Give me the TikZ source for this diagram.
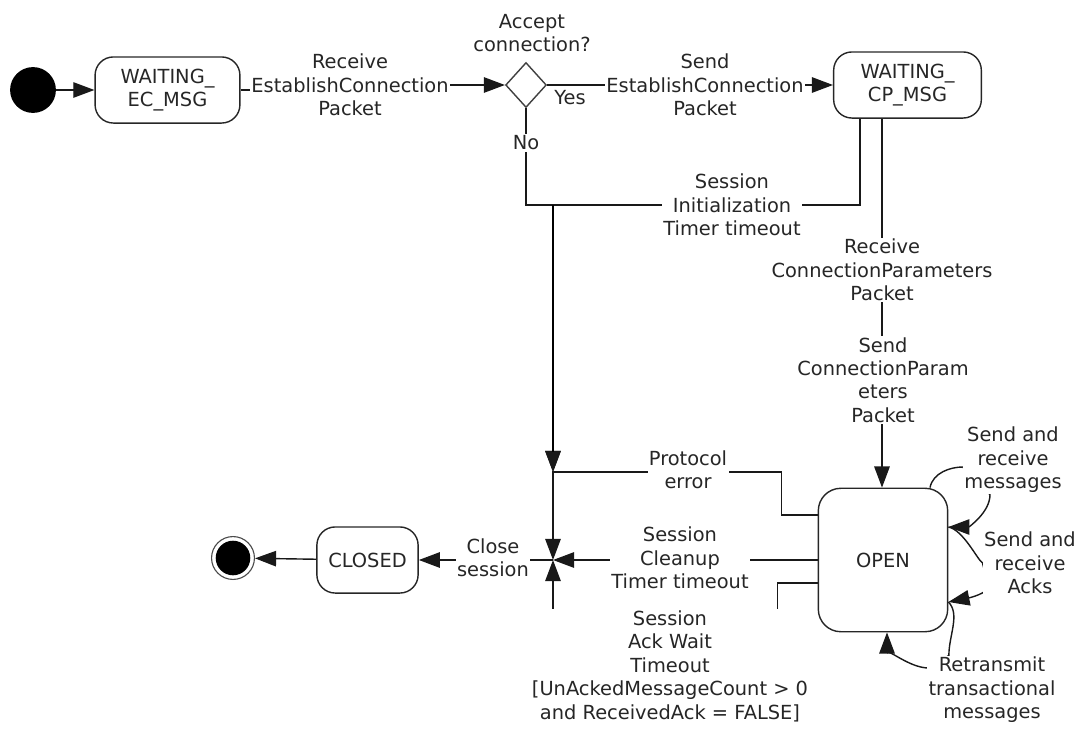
\documentclass[tikz,border=0pt]{standalone}
\usepackage{fontspec}
\setmainfont{DejaVu Sans}
\usetikzlibrary{arrows.meta, shapes.geometric, backgrounds, calc}

\begin{document}
\begin{tikzpicture}[x=0.025cm, y=-0.025cm, font=\fontsize{13.8}{16.7}\selectfont,
  text=black!85]

  % Define styles
  \tikzset{
    state/.style={draw=black!85, line width=1pt, rounded corners=13pt,
      minimum height=47pt, align=center, inner sep=2pt},
    decision/.style={draw=black!75, line width=1pt, diamond,
      minimum width=29pt, minimum height=32pt, inner sep=0pt},
    startdot/.style={circle, fill=black, minimum size=32.6pt, inner sep=0pt},
    enddot/.style={circle, draw=black!70, line width=0.8pt, minimum size=30.5pt,
      inner sep=0pt,
      path picture={\fill[black] (path picture bounding box.center) circle (12.3pt);}},
    flow/.style={draw=black!90, line width=1pt, -{Triangle[length=15pt,width=11pt]}},
    lbl/.style={fill=white, align=center, inner sep=1pt}
  }

  \useasboundingbox (0,0) rectangle (1079,730);

%% States and pseudo states
  \node[startdot] (init) at (33,90) {};
  \node[state, minimum width=103pt] (ec) at (167.5,90) {WAITING\_\\EC\_MSG};
  \node[decision] (dia) at (526,85) {};
  \node[align=center] (accept) at (532,33) {Accept\\connection?};
  \node[state, minimum width=105pt] (cp) at (907.5,85) {WAITING\_\\CP\_MSG};
  \node[state, minimum width=92pt, minimum height=102pt, rounded corners=16pt]
    (open) at (883,560) {OPEN};
  \node[state, minimum width=72pt] (closed) at (367.5,560) {CLOSED};
  \node[enddot] (final) at (233,558) {};

  % Junction points
  \coordinate (merge) at (553,205);
  \coordinate (perr) at (553,472);
  \coordinate (jn) at (553,560);

%% Transition labels
  \node[lbl] (recvEC) at (350,85) {Receive\\EstablishConnection\\Packet};
  \node[lbl] (sendEC) at (705,85) {Send\\EstablishConnection\\Packet};
  \node (yes) at (570,98) {Yes};
  \node[lbl] (no) at (526,143) {No};
  \node[lbl] (sinit) at (732,205) {Session\\Initialization\\Timer timeout};
  \node[lbl] (recvCP) at (882,270) {Receive\\ConnectionParameters\\Packet};
  \node[lbl] (sendCP) at (883,380) {Send\\ConnectionParam\\eters\\Packet};
  \node[lbl] (perrLbl) at (688,470) {Protocol\\error};
  \node[lbl] (cleanup) at (680,558) {Session\\Cleanup\\Timer timeout};
  \node[lbl] (ackwait) at (670,666)
    {Session\\Ack Wait\\Timeout\\{[}UnAckedMessageCount > 0\\and ReceivedAck = FALSE{]}};
  \node[lbl] (closeLbl) at (493,558) {Close\\session};
  \node[lbl] (msgLbl) at (1013,460) {Send and\\receive\\messages};
  \node[lbl] (ackLbl) at (1030,563) {Send and\\receive\\Acks};
  \node[lbl] (retLbl) at (992,690) {Retransmit\\transactional\\messages};

  % Connection points on the states
  \coordinate (cpInit) at ($(cp.south)+(-47.5,0)$);
  \coordinate (cpParam) at ($(cp.south)+(-25.5,0)$);
  \coordinate (openPE) at ($(open.west)+(0,-45)$);
  \coordinate (openAck) at ($(open.west)+(0,23)$);
  \coordinate (oMsgOut) at ($(open.north)+(47,0)$);
  \coordinate (oMsgIn) at ($(open.east)+(0,-33)$);
  \coordinate (oAckIn) at ($(open.east)+(0,42)$);
  \coordinate (oRetIn) at ($(open.south)+(4,0)$);

%% Transitions (behind the labels)
\begin{scope}[on background layer]
  \draw[flow] (init) -- (ec);
  \draw[flow] (ec.east) -| (recvEC.center) |- (dia.west);
  \draw[flow] (dia.east) -- (cp.west);

  % timeouts and refusal
  \draw[flow] (dia.south) |- (merge) -- (perr);
  \draw[flow] (cpInit) |- (merge) -- (perr);
  \draw[line width=1.6pt] (merge) -- ($(perr)+(0,-20)$);

  % parameters exchange
  \draw[flow] (cpParam) -- (cpParam |- open.north);

  % into the junction
  \draw[flow] (openPE) -- ++(-36,0) |- (perr) -- (jn);
  \draw[flow] (open.west) -- (jn);
  \draw[flow] (openAck) -- ++(-40,0) -- ++(0,80) -| (jn);
  \draw[flow] (jn) -- (closed);
  \draw[flow] (closed) -- (final);

  % self transitions of OPEN
  \draw[flow] (oMsgOut) .. controls +(3,-15) and +(-12,0) .. ($(msgLbl.west)+(0,7)$)
    -- ($(msgLbl.south)+(-23,0)$) .. controls +(0,18) and +(20,0) .. (oMsgIn);
  \draw[flow] (oMsgIn) .. controls +(15,3) and +(-5,-3) .. (ackLbl.west)
    -- ($(ackLbl.south west)+(6,-8)$) .. controls +(-5,8) and +(15,-3) .. (oAckIn);
  \draw[flow] (oAckIn) .. controls +(12,12) and +(0,-20) .. ($(retLbl.north west)+(22,0)$)
    -- ($(retLbl.west)+(2,-22)$) .. controls +(-20,0) and +(0,15) .. (oRetIn);
\end{scope}

\end{tikzpicture}
\end{document}
